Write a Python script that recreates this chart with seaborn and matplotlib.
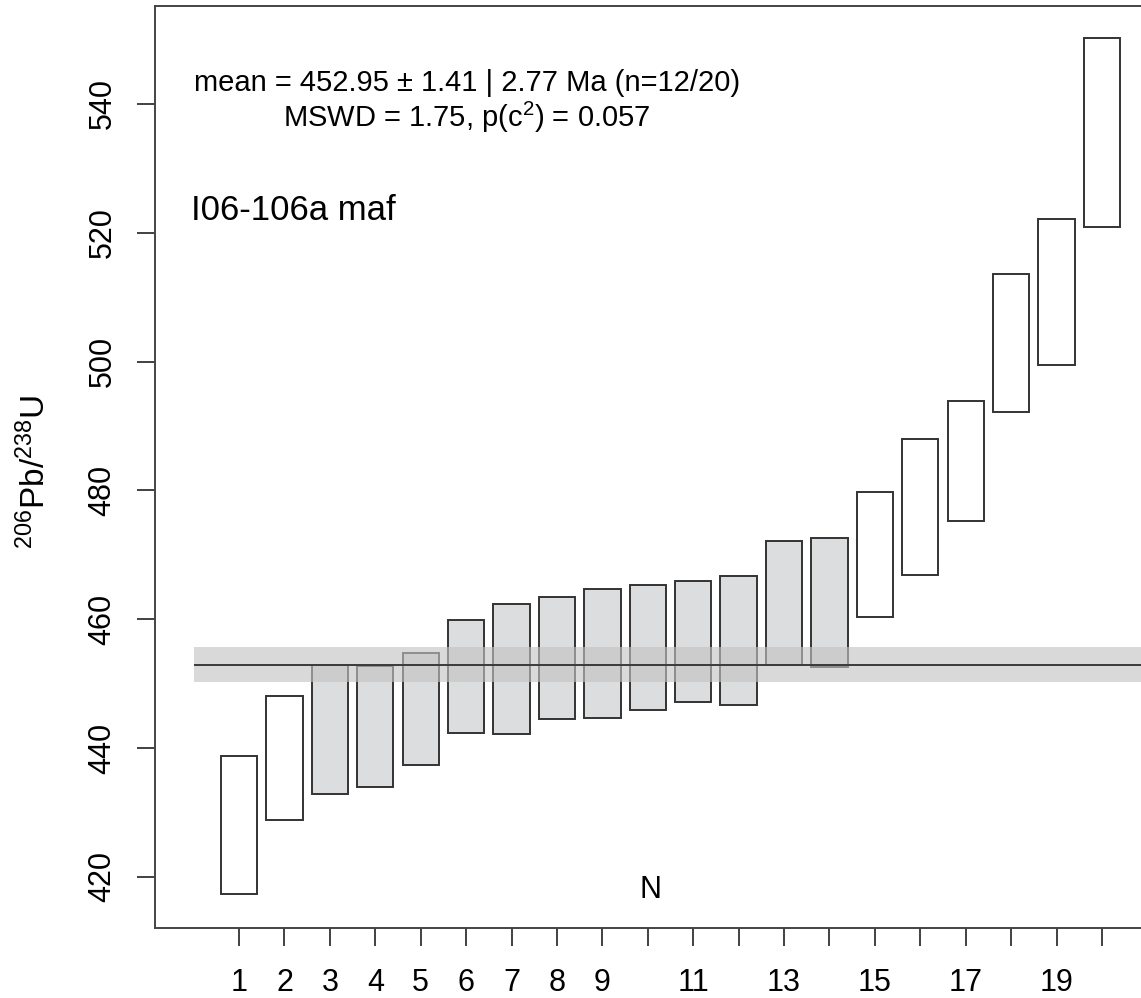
import numpy as np
import pandas as pd
import matplotlib
matplotlib.use("Agg")
import matplotlib.pyplot as plt
import seaborn as sns

# ---- data ----
analysis = [1, 2, 3, 4, 5, 6, 7, 8, 9, 10, 11, 12, 13, 14, 15, 16, 17, 18, 19, 20]
lower = [417.4, 428.8, 432.8, 434.0, 437.4, 442.4, 442.2, 444.5, 444.6, 445.9,
         447.1, 446.6, 452.9, 452.5, 460.3, 466.8, 475.2, 492.1, 499.5, 520.9]
upper = [438.8, 448.0, 452.9, 452.8, 454.7, 459.9, 462.3, 463.4, 464.7, 465.3,
         465.9, 466.7, 472.2, 472.6, 479.7, 488.0, 493.8, 513.6, 522.2, 550.3]
included = [False, False, True, True, True, True, True, True, True, True,
            True, True, True, True, False, False, False, False, False, False]
xtick_labels = ["1", "2", "3", "4", "5", "6", "7", "8", "9", "", "11", "",
                "13", "", "15", "", "17", "", "19", ""]
yticks = [420, 440, 460, 480, 500, 520, 540]
mean_age = 452.95
mean_err = 2.77
title_line1 = "mean = 452.95 ± 1.41 | 2.77 Ma (n=12/20)"
title_line2 = r"MSWD = 1.75, p(c$^{2}$) = 0.057"
sample_name = "I06-106a maf"

# ---- style ----
sns.set_style("white")
plt.rcParams["font.family"] = ["Liberation Sans", "DejaVu Sans"]
plt.rcParams["mathtext.fontset"] = "custom"
plt.rcParams["mathtext.rm"] = "Liberation Sans"
plt.rcParams["mathtext.it"] = "Liberation Sans:italic"
plt.rcParams["mathtext.bf"] = "Liberation Sans:bold"
plt.rcParams["text.color"] = "black"
plt.rcParams["axes.labelcolor"] = "black"

W, H = 1141, 998
fig = plt.figure(figsize=(W / 100, H / 100), dpi=100)
ax = fig.add_axes([155 / W, 70 / H, 991 / W, 922 / H])
ax.set_facecolor("white")

df = pd.DataFrame({"N": analysis, "lo": lower, "hi": upper, "inc": included})
df["h"] = df["hi"] - df["lo"]

edge = "#333333"
for flag, fc in [(True, "#DCDDDF"), (False, "white")]:
    sub = df[df["inc"] == flag]
    sns.barplot(data=sub, x="N", y="h", bottom=sub["lo"].values,
                native_scale=True, width=0.8, color=fc, saturation=1,
                edgecolor=edge, linewidth=1.4, errorbar=None, ax=ax, zorder=2)

# mean band and line
ax.fill_between([0, 22], mean_age - mean_err, mean_age + mean_err,
                color=(195 / 255, 195 / 255, 195 / 255), alpha=0.63, lw=0, zorder=3)
ax.hlines(mean_age, 0, 22, color="#3a3a3a", lw=1.4, zorder=4)

ax.set_xlim(-0.85, 20.97)
ax.set_ylim(412.05, 555.2)

ax.set_xticks(analysis)
ax.set_xticklabels(xtick_labels)
ax.set_yticks(yticks)
ax.set_yticklabels([str(v) for v in yticks], rotation=90, va="center")
ax.tick_params(axis="both", which="major", direction="out", length=13, width=1.3,
               color="#333333", labelsize=22, labelcolor="black",
               bottom=True, left=True)
ax.tick_params(axis="y", pad=14)
ax.tick_params(axis="x", pad=16)

for s in ax.spines.values():
    s.set_visible(True)
    s.set_color("#444444")
    s.set_linewidth(1.4)

ax.set_xlabel("")
ax.set_ylabel(r"$^{206}$Pb/$^{238}$U", fontsize=24)
ax.yaxis.label.set_verticalalignment("center")
ax.yaxis.set_label_coords(-0.121, 0.495)

ax.text(0.3148, 0.9078, title_line1, transform=ax.transAxes, ha="center",
        va="baseline", fontsize=21)
ax.text(0.3148, 0.8688, title_line2, transform=ax.transAxes, ha="center",
        va="baseline", fontsize=21)
ax.text(0.0363, 0.7679, sample_name, transform=ax.transAxes, ha="left",
        va="baseline", fontsize=25)
ax.text(0.5, 0.0412, "N", transform=ax.transAxes, ha="center", va="center",
        fontsize=22)

fig.savefig("out.png", dpi=100)
